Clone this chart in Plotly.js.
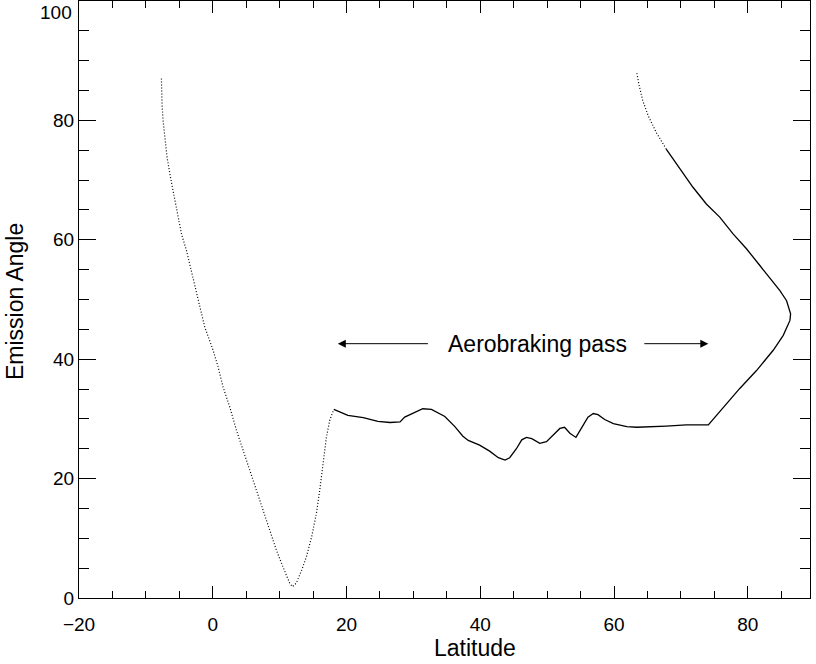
<!DOCTYPE html>
<html>
<head>
<meta charset="utf-8">
<script src="https://cdn.plot.ly/plotly-3.0.1.min.js"></script>
<style>
  html, body { margin: 0; padding: 0; background: #fff; }
  #chart { width: 816px; height: 664px; }
</style>
</head>
<body>
<div id="chart"></div>
<script>
// Left branch (sparse points, approaching the pass)
const latIn = [-7.68, -7.68, -7.58, -7.43, -7.18, -6.83, -6.33, -5.83, -5.33, -4.68, -3.93, -3.19, -2.19, -1.2, 0.05, 0.8, 1.55, 2.54, 3.54, 4.54, 5.53, 6.53, 7.52, 8.52, 9.52, 10.5, 11.5, 11.9, 12.5, 13.3, 14.0, 14.8, 15.5, 16.0, 16.5, 17.0, 17.5, 18.1];
const angIn = [87.0, 84.4, 82.6, 80.0, 77.1, 73.8, 70.5, 67.7, 64.3, 61.0, 58.2, 54.8, 50.4, 45.4, 41.5, 38.7, 35.3, 32.0, 28.1, 24.7, 21.4, 18.1, 14.7, 11.4, 8.0, 5.2, 2.5, 1.9, 2.5, 4.7, 6.9, 10.3, 14.2, 18.1, 22.5, 27.0, 29.8, 31.6];

// Aerobraking pass and the return leg (dense points)
const latPass = [18.1, 20.2, 22.5, 24.7, 26.5, 28.0, 28.7, 30.0, 31.4, 32.7, 34.7, 36.2, 37.4, 38.2, 39.9, 41.4, 42.7, 43.7, 44.4, 45.4, 46.2, 46.9, 47.7, 48.9, 49.9, 51.9, 52.6, 53.4, 54.3, 55.1, 56.1, 56.9, 57.6, 58.6, 59.9, 61.9, 63.4, 67.8, 70.8, 74.1, 76.4, 78.8, 81.3, 83.8, 85.3, 86.3, 86.4, 85.8, 84.8, 83.3, 81.8, 79.8, 77.8, 75.8, 73.8, 71.8, 69.8, 67.8];
const angPass = [31.6, 30.6, 30.2, 29.6, 29.4, 29.5, 30.3, 31.0, 31.7, 31.6, 30.4, 28.7, 27.1, 26.4, 25.6, 24.6, 23.5, 23.1, 23.5, 25.0, 26.5, 26.9, 26.7, 25.9, 26.2, 28.4, 28.6, 27.6, 26.9, 28.4, 30.3, 30.9, 30.7, 29.9, 29.2, 28.7, 28.6, 28.8, 29.0, 29.0, 32.0, 35.1, 38.1, 41.5, 44.0, 46.5, 47.6, 49.8, 51.5, 53.7, 55.7, 58.5, 61.0, 63.8, 66.0, 68.8, 72.1, 75.2];

// Outgoing tail (sparse points)
const latOut = [67.8, 66.3, 65.1, 64.3, 63.7, 63.4];
const angOut = [75.2, 78.0, 80.8, 83.3, 86.1, 88.0];

const xTickVals = [-20, 0, 20, 40, 60, 80];
const xTickText = ['\u221220', '0', '20', '40', '60', '80'];
const yTickVals = [0, 20, 40, 60, 80, 100];
const yTickText = ['0', '20', '40', '60', '80', ''];

const xTitle = 'Latitude';
const yTitle = 'Emission Angle';
const passLabel = 'Aerobraking pass';
const passLabelPos = [48.6, 42.6];
const arrowLeft = {head: [18.7, 42.6], tail: [32.4, 42.6]};
const arrowRight = {head: [74.1, 42.6], tail: [64.3, 42.6]};

const tickFont = {family: 'Liberation Sans, Arial, sans-serif', size: 19, color: '#000'};
const titleFont = {family: 'Liberation Sans, Arial, sans-serif', size: 23, color: '#000'};

const traces = [
  {x: latIn, y: angIn, type: 'scatter', mode: 'lines',
   line: {color: '#000', width: 1.2, dash: '1px,2px'}, hoverinfo: 'skip'},
  {x: latPass, y: angPass, type: 'scatter', mode: 'lines',
   line: {color: '#000', width: 1.3}, hoverinfo: 'skip'},
  {x: latOut, y: angOut, type: 'scatter', mode: 'lines',
   line: {color: '#000', width: 1.2, dash: '1px,2px'}, hoverinfo: 'skip'}
];

function axisCommon() {
  return {
    showgrid: false, zeroline: false,
    showline: true, linecolor: '#000', linewidth: 1,
    mirror: 'ticks', ticks: 'inside', tickcolor: '#000', tickwidth: 1,
    tickfont: tickFont, tickmode: 'array', fixedrange: true
  };
}

const layout = {
  width: 816, height: 664,
  margin: {l: 79, r: 6, t: 1, b: 66},
  paper_bgcolor: '#fff', plot_bgcolor: '#fff',
  showlegend: false,
  xaxis: Object.assign(axisCommon(), {
    range: [-20, 89.3],
    tickvals: xTickVals, ticktext: xTickText, ticklen: 12,
    ticklabelstandoff: 9,
    minor: {ticks: 'inside', dtick: 5, ticklen: 7, tickcolor: '#000', tickwidth: 1, showgrid: false}
  }),
  yaxis: Object.assign(axisCommon(), {
    range: [0, 100],
    tickvals: yTickVals, ticktext: yTickText, ticklen: 17,
    minor: {ticks: 'inside', dtick: 5, ticklen: 10, tickcolor: '#000', tickwidth: 1, showgrid: false}
  }),
  annotations: [
    {x: 0, xref: 'paper', y: 100, yref: 'y', text: '100', showarrow: false,
     xanchor: 'right', yanchor: 'top', xshift: -5, yshift: 1, font: tickFont},
    {x: (475 - 79) / 731, xref: 'paper', y: 0, yref: 'paper', text: xTitle, showarrow: false,
     xanchor: 'center', yanchor: 'middle', yshift: -50, font: titleFont},
    {x: (15 - 79) / 731, xref: 'paper', y: (598 - 302) / 597, yref: 'paper', text: yTitle,
     showarrow: false, textangle: -90, xanchor: 'center', yanchor: 'middle', font: titleFont,
     borderpad: 0},
    {x: passLabelPos[0], y: passLabelPos[1], xref: 'x', yref: 'y', text: passLabel,
     showarrow: false, xanchor: 'center', yanchor: 'middle', font: titleFont},
    {x: arrowLeft.head[0], y: arrowLeft.head[1], ax: arrowLeft.tail[0], ay: arrowLeft.tail[1],
     xref: 'x', yref: 'y', axref: 'x', ayref: 'y', text: '', showarrow: true,
     arrowhead: 2, arrowsize: 1.6, arrowwidth: 1, arrowcolor: '#000', standoff: 0, startstandoff: 0},
    {x: arrowRight.head[0], y: arrowRight.head[1], ax: arrowRight.tail[0], ay: arrowRight.tail[1],
     xref: 'x', yref: 'y', axref: 'x', ayref: 'y', text: '', showarrow: true,
     arrowhead: 2, arrowsize: 1.6, arrowwidth: 1, arrowcolor: '#000', standoff: 0, startstandoff: 0}
  ]
};

Plotly.newPlot('chart', traces, layout, {displayModeBar: false, staticPlot: true});
</script>
</body>
</html>
